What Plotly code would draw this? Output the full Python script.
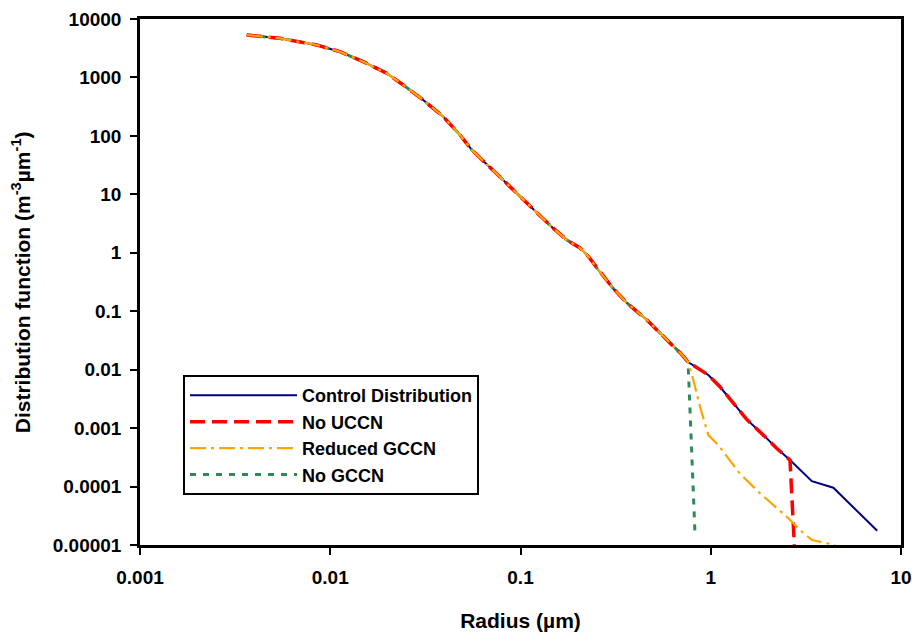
import plotly.graph_objects as go

# ---------------- data ----------------
# shared part of all distributions (radius in µm, distribution in m^-3 µm^-1)
common_r = [0.00364, 0.00544, 0.0085, 0.01125, 0.0149, 0.0198, 0.0242, 0.0308,
            0.0393, 0.0481, 0.0556, 0.0692, 0.078, 0.108, 0.148, 0.1755, 0.2055,
            0.224, 0.252, 0.306, 0.363, 0.462, 0.589, 0.70, 0.76]
common_f = [5320, 4675, 3590, 2760, 1860, 1178, 743, 411,
            213, 103.5, 57, 29.3, 19.8, 7.1, 2.66, 1.65, 1.21,
            0.916, 0.548, 0.249, 0.138, 0.0707, 0.0321, 0.0185, 0.0135]

# Control distribution tail
control_tail_r = [0.971, 1.118, 1.368, 1.545, 1.97, 2.22, 2.61, 3.40, 4.41, 7.50]
control_tail_f = [0.0081, 0.0051, 0.00232, 0.00141, 0.000668, 0.000451, 0.000284,
                  0.000124, 0.0000955, 0.0000175]

# No UCCN tail (follows control, then drops)
nouccn_tail_r = [0.971, 1.118, 1.368, 1.545, 1.97, 2.22, 2.61, 2.75]
nouccn_tail_f = [0.0081, 0.0051, 0.00232, 0.00141, 0.000668, 0.000451, 0.000284, 0.00001]

# Reduced GCCN tail
reduced_tail_r = [0.81, 0.878, 0.971, 1.096, 1.42, 1.815, 2.51, 2.95, 3.40, 4.5]
reduced_tail_f = [0.00665, 0.00232, 0.00076, 0.000513, 0.000168, 0.0000766,
                  0.0000305, 0.000018, 0.0000122, 0.00001]

# No GCCN tail
nogccn_tail_r = [0.826]
nogccn_tail_f = [0.000016]

x_ticks = [0.001, 0.01, 0.1, 1, 10]
x_ticktext = ["0.001", "0.01", "0.1", "1", "10"]
y_ticks = [1e-5, 1e-4, 1e-3, 1e-2, 1e-1, 1, 10, 100, 1000, 10000]
y_ticktext = ["0.00001", "0.0001", "0.001", "0.01", "0.1", "1", "10", "100", "1000", "10000"]

names = ["Control Distribution", "No UCCN", "Reduced GCCN", "No GCCN"]
x_title = "Radius (µm)"
y_title = "Distribution function (m<sup>-3</sup>µm<sup>-1</sup>)"

# ---------------- figure ----------------
fig = go.Figure()

fig.add_trace(go.Scatter(x=common_r + control_tail_r, y=common_f + control_tail_f,
                         mode="lines", name=names[0], legendrank=1,
                         line=dict(color="#000080", width=2)))
fig.add_trace(go.Scatter(x=common_r + nogccn_tail_r, y=common_f + nogccn_tail_f,
                         mode="lines", name=names[3], legendrank=4,
                         line=dict(color="#2E8B57", width=3, dash="6px,7px")))
fig.add_trace(go.Scatter(x=common_r + nouccn_tail_r, y=common_f + nouccn_tail_f,
                         mode="lines", name=names[1], legendrank=2,
                         line=dict(color="#FF0000", width=3.5, dash="15px,7px")))
fig.add_trace(go.Scatter(x=common_r + reduced_tail_r, y=common_f + reduced_tail_f,
                         mode="lines", name=names[2], legendrank=3,
                         line=dict(color="#FFA500", width=2.2, dash="16px,5px,3px,5px")))

FAM = "Liberation Sans, Arial, sans-serif"
tickfont = dict(family=FAM, size=19, color="black", weight="bold")
titlefont = dict(family=FAM, size=21, color="black", weight="bold")

fig.update_layout(
    width=912, height=636,
    margin=dict(l=140, r=11, t=19, b=91, autoexpand=False),
    paper_bgcolor="white", plot_bgcolor="white",
    font=dict(family=FAM, color="black"),
    showlegend=True,
    legend=dict(x=0.0565, y=0.323, xanchor="left", yanchor="top",
                bordercolor="black", borderwidth=2, bgcolor="white",
                itemwidth=107, tracegroupgap=0,
                font=dict(family=FAM, size=18, color="black", weight="bold"),
                traceorder="normal"),
    xaxis=dict(type="log", range=[-3, 1], tickvals=x_ticks, ticktext=x_ticktext,
               showgrid=False, zeroline=False, showline=True, linecolor="black",
               linewidth=2.5, mirror=True, ticks="outside", ticklen=7, tickwidth=2,
               tickcolor="black", tickfont=tickfont, automargin=False,
               ticklabelstandoff=6,
               title=dict(text=x_title, font=titlefont, standoff=27)),
    yaxis=dict(type="log", range=[-5, 4], tickvals=y_ticks, ticktext=y_ticktext,
               showgrid=False, zeroline=False, showline=True, linecolor="black",
               linewidth=2.5, mirror=True, ticks="outside", ticklen=7, tickwidth=2,
               tickcolor="black", tickfont=tickfont, automargin=False,
               ticklabelstandoff=5),
    annotations=[dict(text=y_title, xref="paper", yref="paper",
                      x=-0.156, y=0.5, xanchor="center", yanchor="middle",
                      textangle=-90, showarrow=False, font=titlefont)],
)

fig.write_html("out.html")
